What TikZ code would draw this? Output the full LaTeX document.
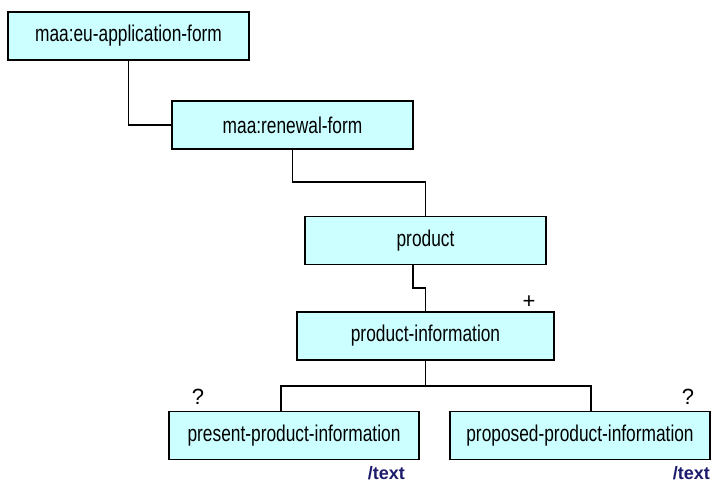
\documentclass[tikz,border=0pt]{standalone}
\usepackage{fontspec}
\setmainfont{Liberation Sans}
\newfontfamily\formfont{Liberation Sans}[FakeStretch=0.76]
\usepackage{xcolor}
\usetikzlibrary{positioning,calc}
\definecolor{formfill}{HTML}{CCFFFF}
\definecolor{typeblue}{HTML}{1C1C6C}

\begin{document}
\begin{tikzpicture}[x=1pt,y=-1pt,
	form node/.style={rectangle,inner sep=0pt,fill=formfill,draw,line width=1.8pt,
		font=\formfont\fontsize{22.8}{26}\selectfont, minimum height=48pt},
	card node/.style={inner sep=0pt,font=\fontsize{22}{26}\selectfont},
	type node/.style={inner sep=0pt,anchor=east,text=typeblue,font=\fontsize{18}{21}\selectfont\bfseries},
	link/.style={draw,line width=1.5pt}]

	\useasboundingbox (0,0) rectangle (712,483);

	\node[form node, minimum width = 241pt] (EU) at (128.5,36) {maa:eu-application-form};
	\node[form node, minimum width = 241pt] (RF) at (292.5,125) {maa:renewal-form};
	\node[form node, minimum width = 241pt] (P) at (425.5,240.5) {product};
	\node[form node, minimum width = 257pt] (PI) at (425.5,336) {product-information};
	\node[form node, minimum width = 250pt] (PRE) at (294,435.5) {present-product-information};
	\node[form node, minimum width = 260pt] (PRO) at (580,435.5) {proposed-product-information};

	% cardinalities and types
	\node[card node] (PIplus) at (529,302) {+};
	\node[card node] (PREopt) at (198,397) {?};
	\node[card node] (PROopt) at (688,397) {?};
	\node[type node] (PREtype) at (405,473.5) {/text};
	\node[type node] (PROtype) at (710,473.5) {/text};

	\coordinate (j1) at (0,182);
	\coordinate (j2) at (413,288);
	\coordinate (bl) at (281,386);
	\coordinate (br) at (591,386);

	\path[link]
	(EU.south) |- (RF.west)
	(RF.south) |- (P.north |- j1) -- (P.north)
	(j2 |- P.south) -- (j2) -| (PI.north)
	(PI.south) -- (PI.south |- bl)
	(bl |- PRE.north) -- (bl) -- (br) -- (br |- PRO.north);

\end{tikzpicture}
\end{document}
